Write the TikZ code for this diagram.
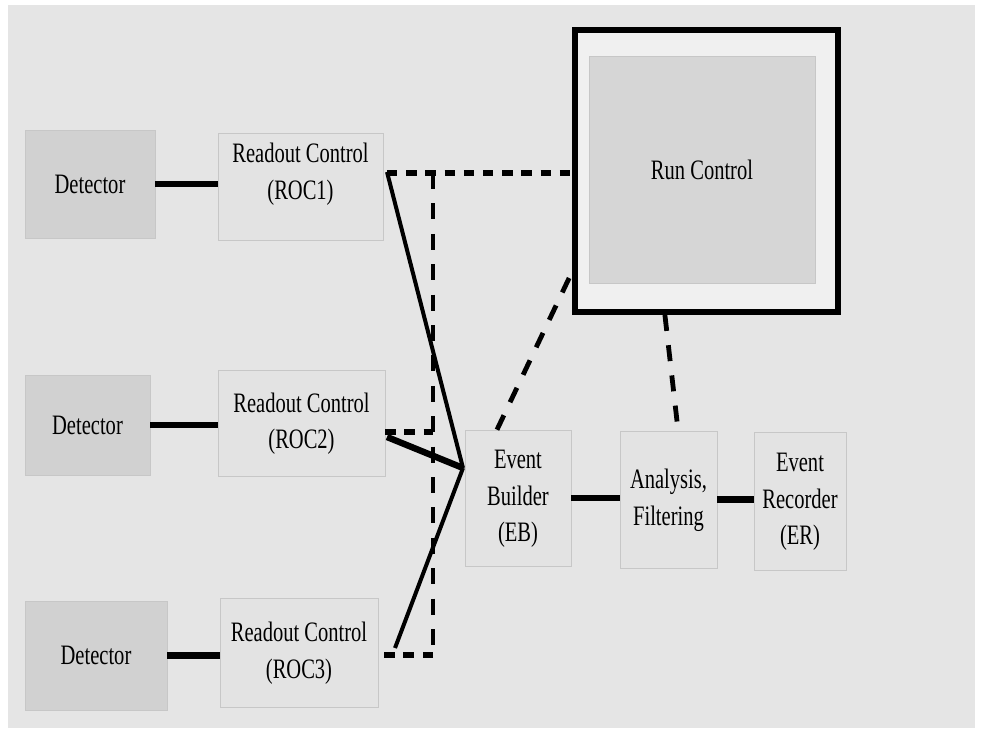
\documentclass[tikz,border=0pt]{standalone}
\usepackage{fontspec}
\setmainfont[FakeStretch=0.73]{Liberation Serif}
\definecolor{pagegray}{gray}{0.9}
\definecolor{detgray}{gray}{0.82}
\definecolor{boxgray}{gray}{0.89}
\definecolor{edgegray}{gray}{0.78}
\definecolor{rcgray}{gray}{0.84}
\definecolor{rcframe}{gray}{0.94}
\tikzset{
	detbox/.style={draw=edgegray, fill=detgray, inner sep=0pt},
	stagebox/.style={draw=edgegray, fill=boxgray, inner sep=0pt},
	datalink/.style={line width=1.6mm},
	feedlink/.style={line width=1mm},
	ctrl/.style={line width=1.4mm, dash pattern=on 2.6mm off 2.2mm},
	ctrllong/.style={line width=1.2mm, dash pattern=on 4mm off 3.6mm}
}
\begin{document}
\begin{tikzpicture}[x=0.25mm, y=-0.25mm, font=\fontsize{20}{26}\selectfont]
			\useasboundingbox (0,0) rectangle (981,736);
			\fill[white] (0,0) rectangle (981,736);
			\fill[pagegray] (8,5) rectangle (975,728);
			% run control
			\node[draw, line width=1.5mm, fill=rcframe, minimum width=65.75mm, minimum height=70.5mm] (rc) at (706.5,171) {};
			\node[draw=edgegray, fill=rcgray, minimum width=56.5mm, minimum height=56.75mm] (rcinner) at (702,169.5) {Run Control};
			% detectors and readout controllers
			\node[detbox, minimum width=32.5mm, minimum height=27mm] (det1) at (90,184) {Detector};
			\node[detbox, minimum width=31.25mm, minimum height=25mm] (det2) at (87.5,425) {Detector};
			\node[detbox, minimum width=35.5mm, minimum height=27.25mm] (det3) at (96,655.5) {Detector};
			\node[stagebox, minimum width=41.25mm, minimum height=26.75mm] (roc1) at (300.5,186.5) {
				\raisebox{3.2mm}[\height][\depth]{\begin{tabular}{c}
					Readout Control \\
					(ROC1)
				\end{tabular}}
			};
			\node[stagebox, minimum width=41.75mm, minimum height=26.5mm] (roc2) at (301.5,423) {
				\begin{tabular}{c}
					Readout Control \\
					(ROC2)
				\end{tabular}
			};
			\node[stagebox, minimum width=39.5mm, minimum height=27.25mm] (roc3) at (299,652.5) {
				\begin{tabular}{c}
					Readout Control \\
					(ROC3)
				\end{tabular}
			};
			% event chain
			\node[stagebox, minimum width=26.5mm, minimum height=34mm] (eb) at (518,498) {
				\begin{tabular}{c}
					Event \\
					Builder \\
					(EB)
				\end{tabular}
			};
			\node[stagebox, minimum width=24.25mm, minimum height=34.25mm] (af) at (668.5,499.5) {
				\begin{tabular}{c}
					Analysis, \\
					Filtering
				\end{tabular}
			};
			\node[stagebox, minimum width=22.5mm, minimum height=34.5mm] (er) at (800,501) {
				\begin{tabular}{c}
					Event \\
					Recorder \\
					(ER)
				\end{tabular}
			};
			% data path
			\draw[datalink] (det1.east) -- (roc1.west |- det1.east);
			\draw[datalink] (det2.east) -- (roc2.west |- det2.east);
			\draw[datalink] (det3.east) -- (roc3.west |- det3.east);
			\coordinate (join) at (463,468);
			\draw[feedlink] (387,172) -- (join);
			\draw[datalink] (387,437) -- (join);
			\draw[feedlink] (395,648) -- (join);
			\draw[datalink] (eb.east) -- (af.west |- eb.east);
			\draw[datalink] (af.east) -- (er.west |- af.east);
			% control path
			\coordinate (bustop) at (433,173);
			\coordinate (busbot) at (433,655);
			\draw[ctrl] (387,173) -- (rc.west |- bustop);
			\draw[ctrllong] (bustop) -- (busbot);
			\draw[ctrl] (busbot) -- (roc3.east |- busbot);
			\draw[ctrl] (roc2.east |- 0,432) -- (bustop |- 0,432);
			\draw[ctrllong] ([xshift=-5.25mm]eb.north) -- (rc.west |- 0,272);
			\draw[ctrllong] ([xshift=-10.4mm]rc.south) -- ([xshift=2.4mm]af.north);
		\end{tikzpicture}
\end{document}
